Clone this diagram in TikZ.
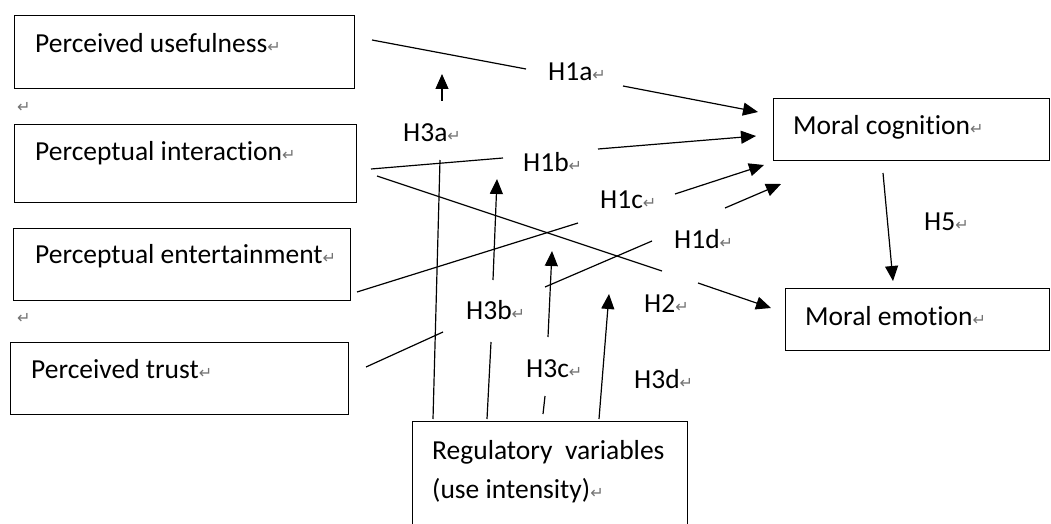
\documentclass[tikz,border=0pt]{standalone}
\usepackage{fontspec}
\setmainfont[Ligatures=NoCommon]{Carlito}
\newfontfamily\dejavu{DejaVu Sans}
\usetikzlibrary{arrows.meta}
\newcommand\pmk{{\color{black!55}\dejavu\fontsize{16}{16}\selectfont ↵}}
\tikzset{
  box/.style={draw, line width=1.3pt, anchor=north west, inner sep=0pt},
  txt/.style={anchor=base west, inner sep=0pt},
  ln/.style={line width=1.2pt},
  arr/.style={line width=1.2pt, -{Triangle[length=15pt,width=13pt]}}
}
\begin{document}
\begin{tikzpicture}[x=1pt,y=-1pt,font=\fontsize{27.5}{32}\selectfont]
\clip (0,0) rectangle (1051,524);
\fill[white] (0,0) rectangle (1051,524);
% boxes
\node[box, minimum width=340pt, minimum height=73pt] (pu) at (14,15) {};
\node[box, minimum width=342pt, minimum height=78pt] (pi) at (14,124) {};
\node[box, minimum width=337pt, minimum height=72pt] (pe) at (13,228) {};
\node[box, minimum width=338pt, minimum height=72pt] (pt) at (10,342) {};
\node[box, minimum width=275pt, minimum height=130pt] (rv) at (412,421) {};
\node[box, minimum width=276pt, minimum height=62pt] (mc) at (773,98) {};
\node[box, minimum width=264pt, minimum height=62pt] (me) at (785,288) {};
% box texts
\node[txt] (tpu) at (35,53) {Perceived usefulness\pmk};
\node[txt] (tpi) at (35,160) {Perceptual interaction\pmk};
\node[txt] (tpe) at (35,263) {Perceptual entertainment\pmk};
\node[txt] (tpt) at (31,378) {Perceived trust\pmk};
\node[txt] (trv1) at (432,459) {Regulatory\ \ variables};
\node[txt] (trv2) at (432,498) {(use intensity)\pmk};
\node[txt] (tmc) at (793,135) {Moral cognition\pmk};
\node[txt] (tme) at (805,325) {Moral emotion\pmk};
% stray paragraph marks
\node[txt] (pm1) at (17,113) {\pmk};
\node[txt] (pm2) at (17,323) {\pmk};
% labels
\node[txt] (l1a) at (548,81) {H1a\pmk};
\node[txt] (l3a) at (403,141) {H3a\pmk};
\node[txt] (l1b) at (523,171) {H1b\pmk};
\node[txt] (l1c) at (600,208) {H1c\pmk};
\node[txt] (l1d) at (674,248) {H1d\pmk};
\node[txt] (l2) at (644,312) {H2\pmk};
\node[txt] (l3b) at (466,319) {H3b\pmk};
\node[txt] (l3c) at (526,377) {H3c\pmk};
\node[txt] (l3d) at (634,388) {H3d\pmk};
\node[txt] (l5) at (924,230) {H5\pmk};
% coordinates
\coordinate (a1) at (372,40); \coordinate (a2) at (526,69);
\coordinate (a3) at (623,86); \coordinate (a4) at (758,112);
\coordinate (b1) at (371,169); \coordinate (b2) at (503,158);
\coordinate (b3) at (598,149); \coordinate (b4) at (756,136);
\coordinate (c1) at (357,292); \coordinate (c2) at (578,223);
\coordinate (c3) at (675,194); \coordinate (c4) at (764,165);
\coordinate (d1) at (366,367); \coordinate (d2) at (443,332);
\coordinate (d3) at (545,287); \coordinate (d4) at (652,241);
\coordinate (d5) at (725,208); \coordinate (d6) at (781,184);
\coordinate (e1) at (377,176); \coordinate (e2) at (662,271);
\coordinate (e3) at (698,283); \coordinate (e4) at (771,308);
\coordinate (f1) at (883,173); \coordinate (f2) at (893,281);
\coordinate (g1) at (433,419); \coordinate (g2) at (440,160);
\coordinate (g3) at (442,101); \coordinate (g4) at (442,74);
\coordinate (h1) at (487,419); \coordinate (h2) at (491,342);
\coordinate (h3) at (493,280); \coordinate (h4) at (497,179);
\coordinate (i1) at (543,414); \coordinate (i2) at (545,396);
\coordinate (i3) at (548,337); \coordinate (i4) at (552,251);
\coordinate (j1) at (599,419); \coordinate (j2) at (609,294);
% connectors
\draw[ln] (a1) -- (a2); \draw[arr] (a3) -- (a4);
\draw[ln] (b1) -- (b2); \draw[arr] (b3) -- (b4);
\draw[ln] (c1) -- (c2); \draw[arr] (c3) -- (c4);
\draw[ln] (d1) -- (d2); \draw[ln] (d3) -- (d4); \draw[arr] (d5) -- (d6);
\draw[ln] (e1) -- (e2); \draw[arr] (e3) -- (e4);
\draw[arr] (f1) -- (f2);
\draw[ln] (g1) -- (g2); \draw[arr] (g3) -- (g4);
\draw[ln] (h1) -- (h2); \draw[arr] (h3) -- (h4);
\draw[ln] (i1) -- (i2); \draw[arr] (i3) -- (i4);
\draw[arr] (j1) -- (j2);
\end{tikzpicture}
\end{document}
